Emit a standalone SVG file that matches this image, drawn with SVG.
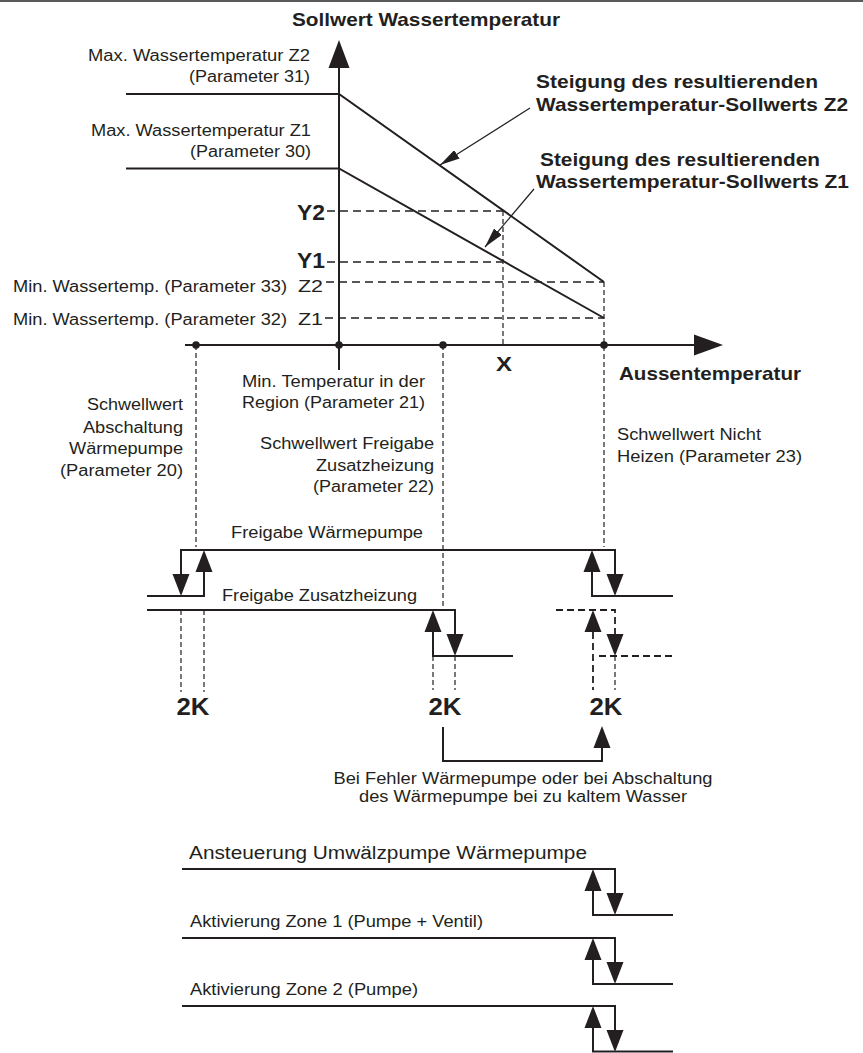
<svg xmlns="http://www.w3.org/2000/svg" width="863" height="1053" viewBox="0 0 863 1053">
<style>
text{font-family:"Liberation Sans",Arial,Helvetica,sans-serif;fill:#231f20;font-size:16px}
.b{font-weight:bold}
.s{stroke:#231f20;stroke-width:2;fill:none}
.d{stroke:#231f20;stroke-width:1.5;fill:none;stroke-dasharray:8 5}
.d2{stroke:#231f20;stroke-width:1.8;fill:none;stroke-dasharray:7 4}
.v{stroke:#231f20;stroke-width:1.2;fill:none;stroke-dasharray:5 3}
.t{stroke:#231f20;stroke-width:1.2;fill:none}
.h{fill:#231f20}
</style>
<defs>
<!-- filled arrowheads for switching steps, tip at origin -->
<path id="hd" d="M0,0 L-8.5,-22 L8.5,-22 Z" fill="#231f20"/>
<path id="hu" d="M0,0 L-8.5,22 L8.5,22 Z" fill="#231f20"/>
<marker id="thin" viewBox="0 0 20 10" refX="20" refY="5" markerWidth="20" markerHeight="10" markerUnits="userSpaceOnUse" orient="auto">
<path d="M0,0 L20,5 L0,10 Z" fill="#231f20"/>
</marker>
</defs>
<rect width="863" height="1053" fill="#fff"/>
<rect x="0" y="0" width="863" height="2" fill="#5a5a5a"/>

<!-- heating curve chart -->
<g id="chart-axes">
<line class="s" x1="339" y1="370" x2="339" y2="66"/>
<polygon class="h" points="339,40 328.5,68 349.5,68"/>
<line class="s" x1="185" y1="345" x2="696" y2="345"/>
<polygon class="h" points="723,345 694,334.5 694,355.5"/>
<circle class="h" cx="196" cy="345" r="3.8"/>
<circle class="h" cx="339" cy="345" r="3.8"/>
<circle class="h" cx="443" cy="345" r="3.8"/>
<circle class="h" cx="604" cy="345" r="3.8"/>
</g>

<g id="curves">
<polyline class="s" points="126,94 339,94 604,282"/>
<polyline class="s" points="126,168.5 339,168.5 604,318"/>
</g>

<g id="guides">
<line class="d" x1="327" y1="211" x2="503" y2="211"/>
<line class="d" x1="327" y1="262" x2="503" y2="262"/>
<line class="d" x1="326" y1="282" x2="604" y2="282"/>
<line class="d" x1="325" y1="318" x2="604" y2="318"/>
<line class="v" x1="503" y1="211" x2="503" y2="345"/>
<line class="v" x1="604" y1="282" x2="604" y2="547"/>
<line class="v" x1="196" y1="345" x2="196" y2="547"/>
<line class="v" x1="443" y1="345" x2="443" y2="608"/>
<line class="v" x1="181" y1="610" x2="181" y2="692"/>
<line class="v" x1="204" y1="610" x2="204" y2="692"/>
<line class="v" x1="433" y1="656" x2="433" y2="690"/>
<line class="v" x1="455" y1="656" x2="455" y2="690"/>
<line class="v" x1="615" y1="656" x2="615" y2="690"/>
</g>

<g id="pointers">
<line class="t" x1="530" y1="108" x2="440" y2="165" marker-end="url(#thin)"/>
<line class="t" x1="534" y1="189" x2="485" y2="247" marker-end="url(#thin)"/>
</g>

<g id="chart-labels">
<text class="b" x="292" y="26" style="font-size:18.5px" textLength="268" lengthAdjust="spacingAndGlyphs">Sollwert Wassertemperatur</text>
<text x="310" y="61" text-anchor="end" textLength="222" lengthAdjust="spacingAndGlyphs">Max. Wassertemperatur Z2</text>
<text x="310" y="82" text-anchor="end" textLength="121" lengthAdjust="spacingAndGlyphs">(Parameter 31)</text>
<text x="311" y="136" text-anchor="end" textLength="220" lengthAdjust="spacingAndGlyphs">Max. Wassertemperatur Z1</text>
<text x="311" y="157" text-anchor="end" textLength="121" lengthAdjust="spacingAndGlyphs">(Parameter 30)</text>
<text class="b" x="536" y="88" style="font-size:19px" textLength="282" lengthAdjust="spacingAndGlyphs">Steigung des resultierenden</text>
<text class="b" x="536" y="111" style="font-size:19px" textLength="312" lengthAdjust="spacingAndGlyphs">Wassertemperatur-Sollwerts Z2</text>
<text class="b" x="540" y="166" style="font-size:19px" textLength="280" lengthAdjust="spacingAndGlyphs">Steigung des resultierenden</text>
<text class="b" x="536" y="188" style="font-size:19px" textLength="313" lengthAdjust="spacingAndGlyphs">Wassertemperatur-Sollwerts Z1</text>
<text class="b" x="297" y="220" style="font-size:22px" textLength="28" lengthAdjust="spacingAndGlyphs">Y2</text>
<text class="b" x="297" y="268" style="font-size:22px" textLength="28" lengthAdjust="spacingAndGlyphs">Y1</text>
<text x="13" y="292" textLength="274" lengthAdjust="spacingAndGlyphs">Min. Wassertemp. (Parameter 33)</text>
<text x="298" y="292" style="font-size:17px" textLength="25" lengthAdjust="spacingAndGlyphs">Z2</text>
<text x="13" y="325" textLength="274" lengthAdjust="spacingAndGlyphs">Min. Wassertemp. (Parameter 32)</text>
<text x="298" y="325" style="font-size:17px" textLength="25" lengthAdjust="spacingAndGlyphs">Z1</text>
<text class="b" x="504" y="371" text-anchor="middle" style="font-size:21px" textLength="16" lengthAdjust="spacingAndGlyphs">X</text>
<text class="b" x="619" y="380" style="font-size:18.5px" textLength="182" lengthAdjust="spacingAndGlyphs">Aussentemperatur</text>
<text x="242" y="387" textLength="183" lengthAdjust="spacingAndGlyphs">Min. Temperatur in der</text>
<text x="242" y="408" textLength="183" lengthAdjust="spacingAndGlyphs">Region (Parameter 21)</text>
<text x="183" y="410" text-anchor="end" textLength="96" lengthAdjust="spacingAndGlyphs">Schwellwert</text>
<text x="183" y="433" text-anchor="end" textLength="100" lengthAdjust="spacingAndGlyphs">Abschaltung</text>
<text x="183" y="454" text-anchor="end" textLength="114" lengthAdjust="spacingAndGlyphs">Wärmepumpe</text>
<text x="183" y="476" text-anchor="end" textLength="123" lengthAdjust="spacingAndGlyphs">(Parameter 20)</text>
<text x="434" y="449" text-anchor="end" textLength="174" lengthAdjust="spacingAndGlyphs">Schwellwert Freigabe</text>
<text x="434" y="471" text-anchor="end" textLength="118" lengthAdjust="spacingAndGlyphs">Zusatzheizung</text>
<text x="434" y="492" text-anchor="end" textLength="121" lengthAdjust="spacingAndGlyphs">(Parameter 22)</text>
<text x="617" y="440" textLength="144" lengthAdjust="spacingAndGlyphs">Schwellwert Nicht</text>
<text x="617" y="462" textLength="185" lengthAdjust="spacingAndGlyphs">Heizen (Parameter 23)</text>
</g>

<!-- enable signals with 2K hysteresis -->
<g id="freigabe-waermepumpe">
<text x="231" y="538" textLength="192" lengthAdjust="spacingAndGlyphs">Freigabe Wärmepumpe</text>
<polyline class="s" points="181,574 181,550 615,550 615,574"/>
<use href="#hd" x="181" y="596"/>
<use href="#hd" x="615" y="596"/>
<polyline class="s" points="147,596 204,596 204,572"/>
<use href="#hu" x="204" y="550"/>
<polyline class="s" points="592,572 592,596 673,596"/>
<use href="#hu" x="592" y="550"/>
</g>

<g id="freigabe-zusatzheizung">
<text x="222" y="601" textLength="195" lengthAdjust="spacingAndGlyphs">Freigabe Zusatzheizung</text>
<polyline class="s" points="147,610 455,610 455,634"/>
<use href="#hd" x="455" y="656"/>
<polyline class="s" points="433,632 433,656 513,656"/>
<use href="#hu" x="433" y="610"/>
</g>

<g id="zusatzheizung-fehler">
<polyline class="d2" points="556,610 615,610 615,634"/>
<use href="#hd" x="615" y="656"/>
<line class="d2" x1="599" y1="656" x2="672" y2="656"/>
<line class="d2" x1="593" y1="632" x2="593" y2="690"/>
<use href="#hu" x="593" y="610"/>
</g>

<g id="hysteresis-labels">
<text class="b" x="193" y="715" text-anchor="middle" style="font-size:23.5px" textLength="33" lengthAdjust="spacingAndGlyphs">2K</text>
<text class="b" x="445" y="715" text-anchor="middle" style="font-size:23.5px" textLength="33" lengthAdjust="spacingAndGlyphs">2K</text>
<text class="b" x="606" y="715" text-anchor="middle" style="font-size:23.5px" textLength="33" lengthAdjust="spacingAndGlyphs">2K</text>
</g>

<g id="connectors">
<polyline class="s" points="443,727 443,761 602,761 602,746"/>
<use href="#hu" x="602" y="726"/>
</g>

<g id="fehler-note">
<text x="523" y="784" text-anchor="middle" textLength="379" lengthAdjust="spacingAndGlyphs">Bei Fehler Wärmepumpe oder bei Abschaltung</text>
<text x="523" y="802" text-anchor="middle" textLength="328" lengthAdjust="spacingAndGlyphs">des Wärmepumpe bei zu kaltem Wasser</text>
</g>

<!-- pump and zone outputs -->
<g id="umwaelzpumpe">
<text x="189" y="859" style="font-size:18px" textLength="398" lengthAdjust="spacingAndGlyphs">Ansteuerung Umwälzpumpe Wärmepumpe</text>
<polyline class="s" points="182,869 615,869 615,893"/>
<use href="#hd" x="615" y="915"/>
<polyline class="s" points="593,891 593,915 673,915"/>
<use href="#hu" x="593" y="869"/>
</g>

<g id="zone-1">
<text x="190" y="927" textLength="293" lengthAdjust="spacingAndGlyphs">Aktivierung Zone 1 (Pumpe + Ventil)</text>
<polyline class="s" points="182,938 615,938 615,962"/>
<use href="#hd" x="615" y="984"/>
<polyline class="s" points="593,960 593,984 673,984"/>
<use href="#hu" x="593" y="938"/>
</g>

<g id="zone-2">
<text x="190" y="995" textLength="228" lengthAdjust="spacingAndGlyphs">Aktivierung Zone 2 (Pumpe)</text>
<polyline class="s" points="182,1006 615,1006 615,1030"/>
<use href="#hd" x="615" y="1052"/>
<polyline class="s" points="593,1028 593,1051.5 673,1051.5"/>
<use href="#hu" x="593" y="1006"/>
</g>
</svg>
